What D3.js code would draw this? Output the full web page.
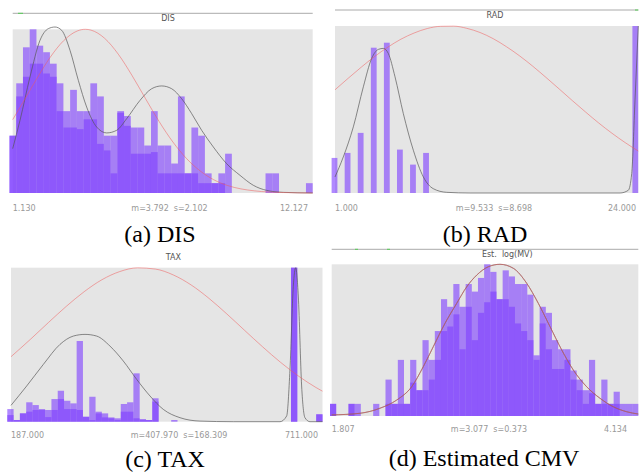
<!DOCTYPE html>
<html lang="en">
<head>
  <meta charset="UTF-8">
  <title>Histograms</title>
  <style>
    body { margin: 0; background: #fff; }
    svg { display: block; }
    .frame { fill: #e5e5e5; }
    .bar { fill: #8040ff; fill-opacity: 0.62; }
    .kde { fill: none; stroke: #555; stroke-width: 0.8; stroke-opacity: 0.85; }
    .normal { fill: none; stroke: #f05a5a; stroke-width: 0.8; stroke-opacity: 0.65; }
    .topline { stroke: #aaa; stroke-width: 1; }
    .mark { stroke: #5c5; stroke-width: 1; }
    .title { font: 8px "DejaVu Sans", sans-serif; fill: #555; white-space: pre; }
    .lab { font: 8px "DejaVu Sans", sans-serif; fill: #999; white-space: pre; }
    .caption { font: 24px "Liberation Serif", "Times New Roman", serif; fill: #000; }
  </style>
</head>
<body>
  <svg width="641" height="472"></svg>

  <script src="https://d3js.org/d3.v7.min.js"></script>
  <script>
    // heights are relative frequency, 100 = tallest bin of the panel

    // (a) DIS
    const disDomain = [1.130, 12.127];
    const disOuter = [35, 67, 89, 100, 90, 86, 79, 67, 50, 63, 50, 50, 67, 59, 35,
                      35, 50, 47, 40, 40, 29, 50, 29, 29, 18, 59, 12, 40, 35, 12,
                      6, 12, 24, 0, 0, 0, 0, 0, 12, 12, 0, 0, 0, 0, 6];
    const disInner = [35, 59, 71, 79, 79, 73, 71, 50, 40, 40, 39, 45, 45, 30, 26,
                      12, 49, 41, 24, 24, 24, 25, 12, 12, 12, 12, 12, 12, 6, 6,
                      6, 6, 0, 0, 0, 0, 0, 0, 0, 0, 0, 0, 0, 0, 0];
    const disKdeX = [1.13, 1.398, 1.764, 2.131, 2.436, 2.681, 2.925, 3.230, 3.536, 3.841,
                     4.208, 4.575, 4.941, 5.308, 5.797, 6.224, 6.591, 6.957, 7.324, 7.690,
                     8.057, 8.485, 8.973, 9.462, 9.951, 10.440, 11.050, 12.127];
    const disKdeY = [27.1, 44.4, 70.9, 93.3, 100.4, 101.4, 99.4, 87.2, 68.8, 52.5,
                     40.3, 36.7, 38.3, 45.4, 56.6, 63.7, 65.4, 63.7, 57.6, 48.5,
                     38.3, 28.1, 17.9, 10.8, 4.7, 1.6, 0.4, 0];
    const disNormX = [1.13, 1.5, 2, 2.5, 3, 3.5, 3.79, 4, 4.5, 5, 5.5, 6, 6.5, 7, 7.5,
                      8, 8.5, 9, 9.5, 10, 11, 12.127];
    const disNormY = [44.8, 55.2, 69.5, 82.8, 93.1, 99.0, 100, 99.5, 94.5, 84.8, 71.9, 57.6,
                      43.6, 31.2, 21.1, 13.5, 8.1, 4.6, 2.5, 1.3, 0.3, 0.0];

    // (b) RAD
    const radDomain = [1, 24];
    const radValues = [1, 2, 3, 4, 5, 6, 7, 8, 24];
    const radHeights = [21, 24, 36, 87, 90, 26, 17, 24, 100];
    const radKdeX = [1.0, 1.63, 2.39, 3.15, 3.78, 4.29, 4.66, 5.04, 5.55, 6.18,
                     6.94, 7.70, 8.45, 9.47, 11.24, 22.61, 23.24, 23.50, 23.75, 24.0];
    const radKdeY = [9.6, 21.6, 39.6, 63.6, 80.6, 86, 86.6, 83.6, 69.6, 47.6,
                     25.6, 9.6, 2.6, 0.4, 0, 0, 1.6, 11.6, 55.6, 100];
    const radNormX = [1, 2, 3, 4, 5, 6, 7, 8, 9, 10, 11, 12, 13, 14, 15, 16, 17, 18,
                      19, 20, 21, 22, 23, 24];
    const radNormY = [61.8, 68.7, 75.4, 81.7, 87.3, 92.1, 95.8, 98.5, 99.8, 99.9, 98.6,
                      96.1, 92.4, 87.6, 82.1, 75.9, 69.2, 62.3, 55.3, 48.5, 41.9, 35.8,
                      30.2, 25.1];

    // (c) TAX
    const taxDomain = [187, 711];
    const taxOuter = [8.2, 1.1, 5.4, 12.6, 10.8, 8.2, 7.6, 14.7, 20.1, 13.6,
                      11.9, 52.4, 3.2, 16.2, 6.5, 5.4, 2.8, 2.2, 11.5, 12.6,
                      31.4, 1.5, 1.1, 15.2, 0, 0, 1.1, 0, 0, 0,
                      0, 0, 0, 0, 0, 0, 0, 0, 0, 0,
                      0, 0, 0, 0, 0, 100, 0, 0, 0, 4.8];
    const taxInner = [4.3, 1.1, 5.4, 6.5, 7.6, 7.6, 3, 7.6, 14.7, 8.2,
                      8.2, 7.6, 3.2, 1.1, 5.4, 2.8, 2.2, 1.1, 6.5, 6.5,
                      2.2, 1.5, 1.1, 13, 0, 0, 0, 0, 0, 0,
                      0, 0, 0, 0, 0, 0, 0, 0, 0, 0,
                      0, 0, 0, 0, 0, 100, 0, 0, 0, 4.8];
    const taxKdeX = [187, 213.4, 241.4, 269.4, 291.8, 311.5, 331.1, 353.5, 375.9, 398.4,
                     420.8, 443.2, 471.3, 504.9, 560.9, 639.5, 650.7, 656.3, 661.9, 665.8,
                     670.3, 675.9, 681.5, 689.9, 711];
    const taxKdeY = [10.6, 23.2, 37.2, 50.2, 55.6, 56.7, 55.6, 49.1, 39.4, 27.5,
                     16.7, 8.0, 2.6, 0.4, 0, 0, 3.7, 34, 88, 100,
                     81.6, 23.2, 2.6, 0, 0];
    const taxNormX = [187, 220, 250, 280, 310, 340, 370, 400, 430, 460, 490, 520, 550,
                      580, 610, 640, 670, 700, 711];
    const taxNormY = [42.2, 53.6, 64.4, 74.9, 84.4, 92.2, 97.5, 99.9, 99.1, 95.3, 88.8,
                      80.1, 70.0, 59.3, 48.7, 38.7, 29.8, 22.2, 19.8];

    // (d) Est. log(MV)
    const estDomain = [1.807, 4.134];
    const estOuter = [8, 0, 0, 8, 8, 0, 0, 8, 0, 24, 8, 37, 8, 37, 17, 50, 37, 56, 77, 72,
                      87, 72, 87, 82, 91, 100, 95, 77, 96, 92, 87, 87, 80, 40, 72, 68, 50,
                      44, 44, 30, 24, 17, 37, 8, 24, 8, 16, 8, 8, 8];
    const estInner = [8, 0, 0, 8, 0, 0, 0, 0, 0, 8, 8, 8, 8, 22, 17, 17, 24, 37, 56, 59,
                      67, 44, 72, 50, 68, 75, 82, 77, 77, 72, 61, 56, 50, 37, 61, 44, 31,
                      31, 37, 24, 17, 8, 15, 8, 8, 8, 8, 0, 0, 0];
    const estCurveX = [1.807, 2.022, 2.173, 2.300, 2.414, 2.502, 2.578, 2.667, 2.756, 2.832,
                       2.908, 2.996, 3.084, 3.185, 3.287, 3.375, 3.464, 3.553, 3.641, 3.742,
                       3.843, 3.944, 4.046, 4.134];
    const estCurveY = [0.7, 1.8, 5.1, 10.5, 19.3, 32.5, 45.7, 61.1, 74.3, 85.2,
                       92.9, 98.4, 100, 97.4, 87.5, 74.3, 58.9, 43.5, 30.3, 19.3,
                       11.7, 6.1, 2.8, 1.3];

    const zip = (a, b) => a.map((v, i) => [v, b[i]]);

    const panels = [
      { domain: disDomain, frame: [12.7, 312.7, 29.3, 193], barRange: [9.5, 312.7],
        outer: disOuter, inner: disInner,
        kde: zip(disKdeX, disKdeY), normal: zip(disNormX, disNormY),
        topline: 13.3, marks: [[18, 23]], title: ["DIS", 168, 21],
        labels: ["1.130", "m=3.792  s=2.102", "12.127"], labelPos: [12.7, 169.5, 308, 211],
        caption: ["(a) DIS", 160, 242] },
      { domain: radDomain, frame: [335, 638.3, 26, 193], barRange: [334.5, 635.3],
        values: radValues, heights: radHeights,
        kde: zip(radKdeX, radKdeY), normal: zip(radNormX, radNormY),
        topline: 10, marks: [[635, 638.3]], title: ["RAD", 495, 18],
        labels: ["1.000", "m=9.533  s=8.698", "24.000"], labelPos: [335, 494, 636, 211],
        caption: ["(b) RAD", 485, 242] },
      { domain: taxDomain, frame: [11, 322.5, 267.7, 421.7], barRange: [7.3, 322.5],
        outer: taxOuter, inner: taxInner,
        kde: zip(taxKdeX, taxKdeY), normal: zip(taxNormX, taxNormY),
        topline: null, marks: [], title: ["TAX", 173.3, 259.5],
        labels: ["187.000", "m=407.970  s=168.309", "711.000"], labelPos: [11, 179, 318, 438],
        caption: ["(c) TAX", 165, 466.7] },
      { domain: estDomain, frame: [331.7, 638.3, 264.3, 416], barRange: [330, 638.3],
        outer: estOuter, inner: estInner,
        kde: zip(estCurveX, estCurveY), normal: zip(estCurveX, estCurveY),
        topline: 249.3, marks: [[355, 358], [387, 390]], title: ["Est.  log(MV)", 507.3, 257],
        labels: ["1.807", "m=3.077  s=0.373", "4.134"], labelPos: [331.7, 489, 627, 432],
        caption: ["(d) Estimated CMV", 484, 466] }
    ];

    const svg = d3.select("svg");

    panels.forEach(p => {
      const [x0, x1, y0, y1] = p.frame;
      const g = svg.append("g");
      const x = d3.scaleLinear().domain(p.domain).range([x0, x1]);
      const y = d3.scaleLinear().domain([0, 100]).range([y1, y0]);

      if (p.topline !== null) {
        g.append("line").attr("class", "topline")
          .attr("x1", x0).attr("x2", x1).attr("y1", p.topline).attr("y2", p.topline);
        g.selectAll(".mark").data(p.marks).join("line").attr("class", "mark")
          .attr("x1", d => d[0]).attr("x2", d => d[1])
          .attr("y1", p.topline).attr("y2", p.topline);
      }

      g.append("text").attr("class", "title")
        .attr("x", p.title[1]).attr("y", p.title[2])
        .attr("text-anchor", "middle").text(p.title[0]);

      g.append("rect").attr("class", "frame")
        .attr("x", x0).attr("y", y0).attr("width", x1 - x0).attr("height", y1 - y0);

      if (p.outer) {
        // two overlaid translucent histograms on the same bin grid
        const bx = d3.scaleLinear().domain([0, p.outer.length]).range(p.barRange);
        [p.outer, p.inner].forEach(arr => {
          g.append("g").selectAll("rect")
            .data(arr.map((v, i) => ({ i, v })).filter(d => d.v > 0))
            .join("rect").attr("class", "bar")
            .attr("x", d => bx(d.i))
            .attr("width", bx(1) - bx(0))
            .attr("y", d => y(d.v))
            .attr("height", d => y1 - y(d.v));
        });
      } else {
        const bx = d3.scaleLinear().domain(p.domain).range(p.barRange);
        const w = 5.8;
        g.append("g").selectAll("rect")
          .data(zip(p.values, p.heights))
          .join("rect").attr("class", "bar")
          .attr("x", d => bx(d[0]) - w / 2)
          .attr("width", w)
          .attr("y", d => y(d[1]))
          .attr("height", d => y1 - y(d[1]));
      }

      const line = d3.line().x(d => x(d[0])).y(d => y(d[1])).curve(d3.curveMonotoneX);
      g.append("path").attr("class", "kde").attr("d", line(p.kde));
      g.append("path").attr("class", "normal").attr("d", line(p.normal));

      const [lx, mx, rx, ly] = p.labelPos;
      g.append("text").attr("class", "lab").attr("x", lx).attr("y", ly).text(p.labels[0]);
      g.append("text").attr("class", "lab").attr("x", mx).attr("y", ly)
        .attr("text-anchor", "middle").text(p.labels[1]);
      g.append("text").attr("class", "lab").attr("x", rx).attr("y", ly)
        .attr("text-anchor", "end").text(p.labels[2]);

      g.append("text").attr("class", "caption")
        .attr("x", p.caption[1]).attr("y", p.caption[2])
        .attr("text-anchor", "middle").text(p.caption[0]);
    });
  </script>
</body>
</html>
